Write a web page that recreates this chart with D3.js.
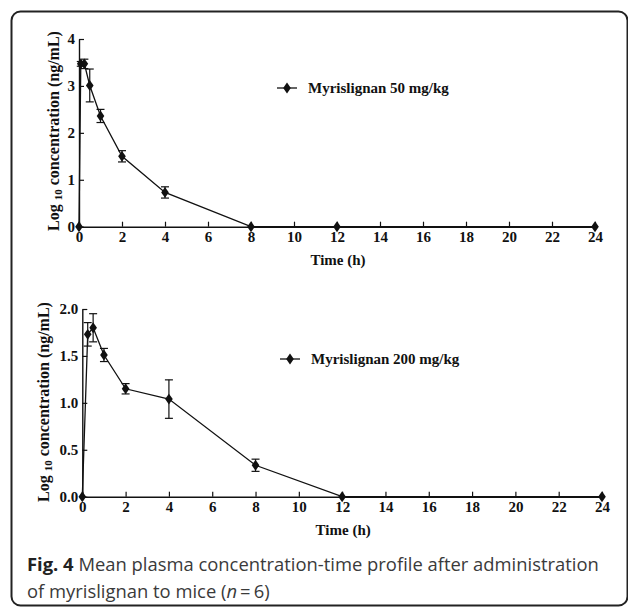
<!DOCTYPE html>
<html>
<head>
<meta charset="utf-8">
<script src="https://cdn.jsdelivr.net/npm/d3@7"></script>
<style>
  body { margin: 0; background: #fff; }
  svg { display: block; }
</style>
</head>
<body>
<div id="container"></div>
<script>
let w = 628;
let h = 607;

// data (mean and SD of log10 concentration)
let time50 = [0, 0.083, 0.25, 0.5, 1, 2, 4, 8, 12, 24];
let mean50 = [0, 3.47, 3.47, 3.01, 2.36, 1.50, 0.73, 0, 0, 0];
let sd50 = [0, 0.05, 0.10, 0.35, 0.14, 0.12, 0.12, 0, 0, 0];

let time200 = [0, 0.25, 0.5, 1, 2, 4, 8, 12, 24];
let mean200 = [0, 1.73, 1.80, 1.51, 1.15, 1.04, 0.335, 0, 0];
let sd200 = [0, 0.125, 0.15, 0.07, 0.055, 0.205, 0.065, 0, 0];

let xTicks = [0, 2, 4, 6, 8, 10, 12, 14, 16, 18, 20, 22, 24];
let yTicks50 = [0, 1, 2, 3, 4];
let yTicks200 = [0, 0.5, 1.0, 1.5, 2.0];

let serif = '"Liberation Serif", "Times New Roman", serif';
let ink = '#111';

let svg = d3.select('#container')
  .append('svg')
    .attr('width', w)
    .attr('height', h);

// rounded frame
svg.append('rect')
  .attr('x', 11.5)
  .attr('y', 11.5)
  .attr('width', 616)
  .attr('height', 594)
  .attr('rx', 9)
  .attr('fill', 'none')
  .attr('stroke', '#222')
  .attr('stroke-width', 2);

function drawPanel(opts) {
  let x = d3.scaleLinear().domain([0, 24]).range([opts.x0, opts.x1]);
  let y = d3.scaleLinear().domain(opts.yDomain).range([opts.y0, opts.y1]);
  let g = svg.append('g');

  let xAxis = g.append('g')
    .attr('transform', 'translate(0,' + opts.y0 + ')')
    .call(d3.axisBottom(x).tickValues(xTicks).tickSizeInner(-5).tickSizeOuter(0).tickPadding(5));

  let yAxis = g.append('g')
    .attr('transform', 'translate(' + opts.x0 + ',0)')
    .call(d3.axisLeft(y).tickValues(opts.yTicks).tickFormat(opts.fmt)
      .tickSizeInner(-5).tickSizeOuter(0).tickPadding(4));

  [xAxis, yAxis].forEach(function(a) {
    a.select('.domain').attr('stroke', ink).attr('stroke-width', 1.4);
    a.selectAll('.tick line').attr('stroke', ink).attr('stroke-width', 1.2);
    a.selectAll('.tick text')
      .attr('fill', ink)
      .style('font-family', serif)
      .style('font-weight', 'bold')
      .style('font-size', '15px');
  });

  let pts = opts.time.map(function(t, i) {
    return { t: t, m: opts.mean[i], sd: opts.sd[i] };
  });

  // error bars
  let eb = g.selectAll('.eb').data(pts.filter(function(d) { return d.sd > 0; }))
    .enter().append('g').attr('class', 'eb');
  eb.append('line')
    .attr('x1', function(d) { return x(d.t); })
    .attr('x2', function(d) { return x(d.t); })
    .attr('y1', function(d) { return y(d.m - d.sd); })
    .attr('y2', function(d) { return y(d.m + d.sd); });
  eb.append('line')
    .attr('x1', function(d) { return x(d.t) - 4; })
    .attr('x2', function(d) { return x(d.t) + 4; })
    .attr('y1', function(d) { return y(d.m + d.sd); })
    .attr('y2', function(d) { return y(d.m + d.sd); });
  eb.append('line')
    .attr('x1', function(d) { return x(d.t) - 4; })
    .attr('x2', function(d) { return x(d.t) + 4; })
    .attr('y1', function(d) { return y(d.m - d.sd); })
    .attr('y2', function(d) { return y(d.m - d.sd); });
  eb.selectAll('line').attr('stroke', ink).attr('stroke-width', 1.2);

  // mean line
  g.append('path')
    .datum(pts)
    .attr('d', d3.line().x(function(d) { return x(d.t); }).y(function(d) { return y(d.m); }))
    .attr('fill', 'none')
    .attr('stroke', ink)
    .attr('stroke-width', 1.3);

  // diamond markers
  g.selectAll('.pt').data(pts)
    .enter().append('path')
    .attr('class', 'pt')
    .attr('d', d3.symbol(d3.symbolDiamond, 42))
    .attr('transform', function(d) { return 'translate(' + x(d.t) + ',' + y(d.m) + ') scale(1.1,0.9)'; })
    .attr('fill', ink);

  // axis titles
  g.append('text')
    .attr('x', (opts.x0 + opts.x1) / 2 + 1)
    .attr('y', opts.y0 + 38)
    .attr('text-anchor', 'middle')
    .attr('fill', ink)
    .style('font-family', serif)
    .style('font-weight', 'bold')
    .style('font-size', '15px')
    .text('Time (h)');

  let yl = g.append('text')
    .attr('transform', 'translate(' + opts.labelX + ',' + opts.labelY + ') rotate(-90)')
    .attr('text-anchor', 'middle')
    .attr('dy', '0.35em')
    .attr('fill', ink)
    .style('font-family', serif)
    .style('font-weight', 'bold')
    .style('font-size', '16px');
  yl.append('tspan').text('Log ');
  yl.append('tspan').attr('dy', '3').style('font-size', '11px').text('10');
  yl.append('tspan').attr('dy', '-3').text(' concentration (ng/mL)');

  // legend
  let lg = g.append('g').attr('transform', 'translate(' + opts.legX + ',' + opts.legY + ')');
  lg.append('line').attr('x1', 0).attr('x2', 20).attr('y1', 0).attr('y2', 0)
    .attr('stroke', ink).attr('stroke-width', 1.3);
  lg.append('path').attr('d', d3.symbol(d3.symbolDiamond, 42))
    .attr('transform', 'translate(10,0) scale(1.1,0.9)').attr('fill', ink);
  lg.append('text')
    .attr('x', 31)
    .attr('dy', '0.35em')
    .attr('fill', ink)
    .style('font-family', serif)
    .style('font-weight', 'bold')
    .style('font-size', '15px')
    .text(opts.legend);
}

drawPanel({
  time: time50, mean: mean50, sd: sd50,
  x0: 79, x1: 595, y0: 226.7, y1: 39,
  yDomain: [0, 4], yTicks: yTicks50, fmt: d3.format('d'),
  labelX: 53, labelY: 131,
  legX: 277, legY: 88, legend: 'Myrislignan 50 mg/kg'
});

drawPanel({
  time: time200, mean: mean200, sd: sd200,
  x0: 82.3, x1: 602, y0: 496.7, y1: 309,
  yDomain: [0, 2], yTicks: yTicks200, fmt: d3.format('.1f'),
  labelX: 43.5, labelY: 402,
  legX: 280, legY: 359, legend: 'Myrislignan 200 mg/kg'
});

// caption
let cap = svg.append('text')
  .attr('x', 27)
  .attr('y', 571)
  .attr('fill', '#3a3a3a')
  .style('font-family', '"Open Sans", "Noto Sans", sans-serif')
  .style('font-size', '18.4px');
cap.append('tspan').style('font-weight', 'bold').attr('fill', '#222').text('Fig. 4');
cap.append('tspan').text(' Mean plasma concentration-time profile after administration');

let cap2 = svg.append('text')
  .attr('x', 27)
  .attr('y', 598)
  .attr('fill', '#3a3a3a')
  .style('font-family', '"Open Sans", "Noto Sans", sans-serif')
  .style('font-size', '18.4px');
cap2.append('tspan').text('of myrislignan to mice (');
cap2.append('tspan').style('font-style', 'italic').text('n');
cap2.append('tspan').text('\u2009=\u20096)');
</script>
</body>
</html>
